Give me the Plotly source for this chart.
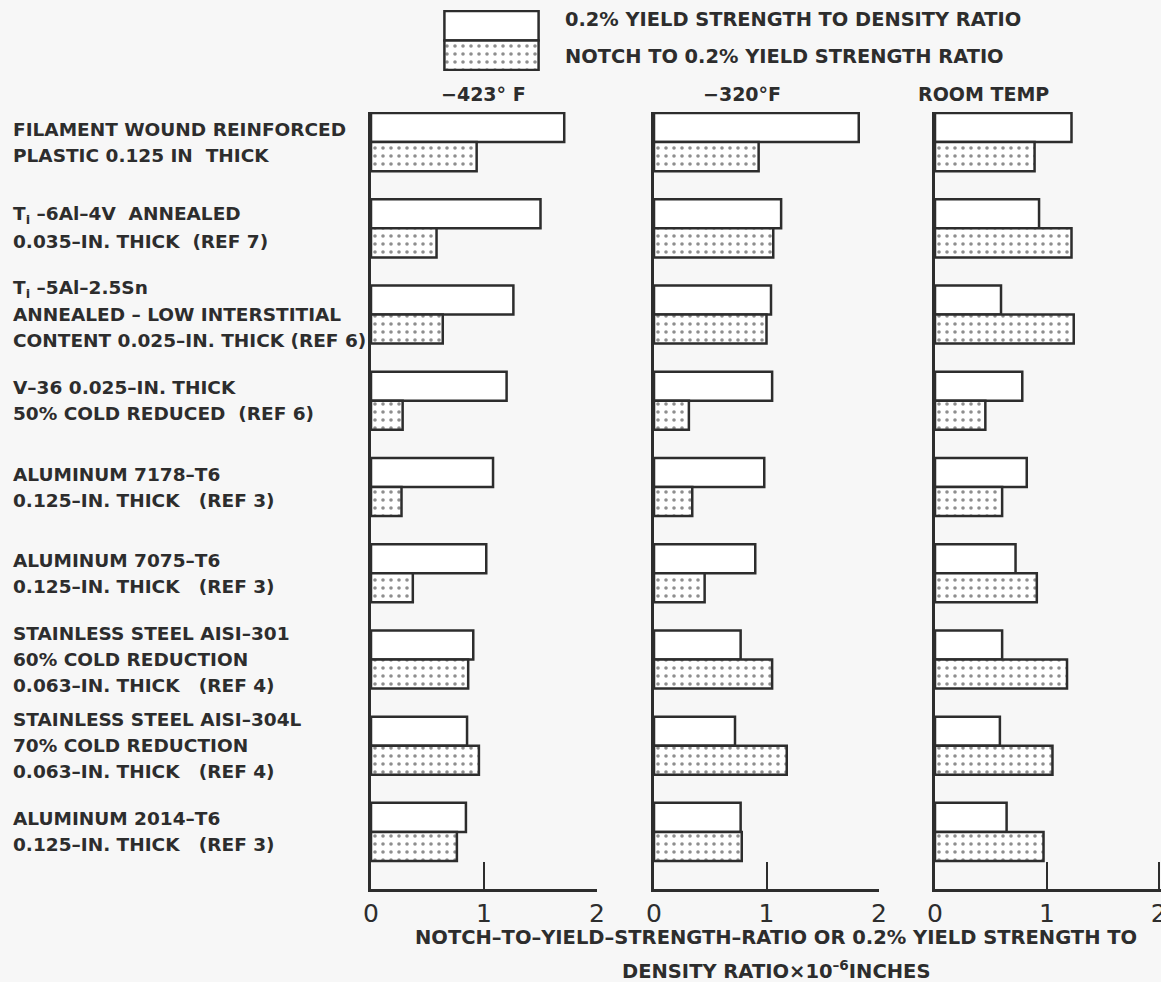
import plotly.graph_objects as go

# ---------------- data ----------------
materials = [
    ["FILAMENT WOUND REINFORCED", "PLASTIC 0.125 IN  THICK"],
    ["T<sub>i</sub> –6Al–4V  ANNEALED", "0.035–IN. THICK  (REF 7)"],
    ["T<sub>i</sub> –5Al–2.5Sn", "ANNEALED – LOW INTERSTITIAL", "CONTENT 0.025–IN. THICK (REF 6)"],
    ["V–36 0.025–IN. THICK", "50% COLD REDUCED  (REF 6)"],
    ["ALUMINUM 7178–T6", "0.125–IN. THICK   (REF 3)"],
    ["ALUMINUM 7075–T6", "0.125–IN. THICK   (REF 3)"],
    ["STAINLESS STEEL AISI–301", "60% COLD REDUCTION", "0.063–IN. THICK   (REF 4)"],
    ["STAINLESS STEEL AISI–304L", "70% COLD REDUCTION", "0.063–IN. THICK   (REF 4)"],
    ["ALUMINUM 2014–T6", "0.125–IN. THICK   (REF 3)"],
]
panel_titles = ["−423° F", "−320°F", "ROOM TEMP"]
series_names = ["0.2% YIELD STRENGTH TO DENSITY RATIO", "NOTCH TO 0.2% YIELD STRENGTH RATIO"]

yield_density_423 = [1.71, 1.50, 1.26, 1.20, 1.08, 1.02, 0.905, 0.85, 0.84]
notch_yield_423 = [0.935, 0.58, 0.635, 0.28, 0.27, 0.37, 0.86, 0.955, 0.76]
yield_density_320 = [1.82, 1.13, 1.04, 1.05, 0.98, 0.90, 0.77, 0.72, 0.77]
notch_yield_320 = [0.93, 1.06, 1.00, 0.31, 0.34, 0.45, 1.05, 1.18, 0.78]
yield_density_rt = [1.22, 0.93, 0.59, 0.78, 0.82, 0.72, 0.60, 0.58, 0.64]
notch_yield_rt = [0.89, 1.22, 1.24, 0.45, 0.60, 0.91, 1.18, 1.05, 0.97]

x_ticks = [0, 1, 2]
x_title_1 = "NOTCH–TO–YIELD–STRENGTH–RATIO OR 0.2% YIELD STRENGTH TO"
x_title_2 = "DENSITY RATIO×10<sup>–6</sup>INCHES"

# ---------------- style ----------------
W, H = 1161, 982
INK = "#2d2d2d"
BG = "#f7f7f7"
FONT = "DejaVu Sans"
BAR_W = 0.337
LINE_W = 2.5

panels = [
    (yield_density_423, notch_yield_423),
    (yield_density_320, notch_yield_320),
    (yield_density_rt, notch_yield_rt),
]
x_domains = [(371 / W, 597 / W), (654 / W, 879 / W), (935 / W, 1.0)]
x_ranges = [[0, 2], [0, 2], [0, 2.02]]
y_domain = (1 - 889 / H, 1 - 112 / H)
positions = list(range(len(materials)))

fig = go.Figure()

dot_pattern = dict(shape=".", fgcolor="#1e1e1e", bgcolor="white", size=8, solidity=0.16, fillmode="overlay")

for i, (ys, ns) in enumerate(panels):
    xa = "x" if i == 0 else f"x{i+1}"
    ya = "y" if i == 0 else f"y{i+1}"
    fig.add_trace(go.Bar(
        orientation="h", x=ys, y=positions, width=BAR_W, offset=-BAR_W,
        marker=dict(color="white", line=dict(color=INK, width=LINE_W)),
        xaxis=xa, yaxis=ya, name=series_names[0], showlegend=False,
    ))
    fig.add_trace(go.Bar(
        orientation="h", x=ns, y=positions, width=BAR_W, offset=0,
        marker=dict(color="white", pattern=dot_pattern, line=dict(color=INK, width=LINE_W)),
        xaxis=xa, yaxis=ya, name=series_names[1], showlegend=False,
    ))

layout = dict(
    width=W, height=H,
    margin=dict(l=0, r=0, t=0, b=0),
    paper_bgcolor=BG, plot_bgcolor=BG,
    barmode="overlay",
    showlegend=False,
    font=dict(family=FONT, color=INK),
)

for i in range(3):
    xk = "xaxis" if i == 0 else f"xaxis{i+1}"
    yk = "yaxis" if i == 0 else f"yaxis{i+1}"
    ya_anchor = "y" if i == 0 else f"y{i+1}"
    xa_anchor = "x" if i == 0 else f"x{i+1}"
    layout[xk] = dict(
        domain=list(x_domains[i]), anchor=ya_anchor, range=x_ranges[i],
        tickvals=x_ticks, ticktext=[str(t) for t in x_ticks],
        ticks="inside", ticklen=27, tickwidth=2, tickcolor=INK,
        showline=True, linewidth=LINE_W, linecolor=INK,
        showgrid=False, zeroline=False, automargin=False,
        tickfont=dict(family=FONT, size=25, color=INK),
        ticklabeloverflow="allow",
        fixedrange=True,
    )
    layout[yk] = dict(
        domain=list(y_domain), anchor=xa_anchor,
        range=[len(materials) - 1 + 0.662, -BAR_W - 0.012],
        showline=True, linewidth=LINE_W, linecolor=INK,
        showticklabels=False, ticks="", showgrid=False, zeroline=False,
        automargin=False, fixedrange=True,
    )

# legend key as a small subplot
layout["xaxis4"] = dict(domain=[443 / W, 540 / W], anchor="y4", range=[-0.015, 1.015],
                        visible=False, fixedrange=True)
layout["yaxis4"] = dict(domain=[1 - 71 / H, 1 - 10 / H], anchor="x4", range=[1.53, -0.53],
                        visible=False, fixedrange=True)
fig.update_layout(**layout)

fig.add_trace(go.Bar(orientation="h", x=[1], y=[0], width=1,
                     marker=dict(color="white", line=dict(color=INK, width=LINE_W)),
                     xaxis="x4", yaxis="y4", showlegend=False, hoverinfo="skip"))
fig.add_trace(go.Bar(orientation="h", x=[1], y=[1], width=1,
                     marker=dict(color="white", pattern=dot_pattern, line=dict(color=INK, width=LINE_W)),
                     xaxis="x4", yaxis="y4", showlegend=False, hoverinfo="skip"))

BOLD = dict(family=FONT, color=INK, weight="bold")
ann = []
# legend texts
for name, yp in zip(series_names, [19, 56]):
    ann.append(dict(text=name, x=563 / W, y=1 - yp / H, xref="paper", yref="paper",
                    xanchor="left", yanchor="middle", showarrow=False,
                    font=dict(BOLD, size=19.4)))

# panel titles
for t, xc in zip(panel_titles, [483, 742, 983]):
    ann.append(dict(text=t, x=xc / W, y=1 - 94 / H, xref="paper", yref="paper",
                    xanchor="center", yanchor="middle", showarrow=False,
                    font=dict(BOLD, size=19)))

# material labels
LINE_SP = 26
for gi, lines in enumerate(materials):
    n = len(lines)
    for k, line in enumerate(lines):
        ann.append(dict(text=line, x=11 / W, y=gi, xref="paper", yref="y",
                        xanchor="left", yanchor="middle", showarrow=False,
                        yshift=((n - 1) / 2 - k) * LINE_SP,
                        font=dict(BOLD, size=18.5)))

# x-axis title lines
ann.append(dict(text=x_title_1, x=776 / W, y=1 - 937 / H, xref="paper", yref="paper",
                xanchor="center", yanchor="middle", showarrow=False,
                font=dict(BOLD, size=19.5)))
ann.append(dict(text=x_title_2, x=776 / W, y=1 - 970 / H, xref="paper", yref="paper",
                xanchor="center", yanchor="middle", showarrow=False,
                font=dict(BOLD, size=19.5)))

fig.update_layout(annotations=ann)
fig.write_html(
    "out.html",
    config={"displayModeBar": False},
    post_script="document.body.style.margin='0px';document.documentElement.style.overflow='hidden';",
)
